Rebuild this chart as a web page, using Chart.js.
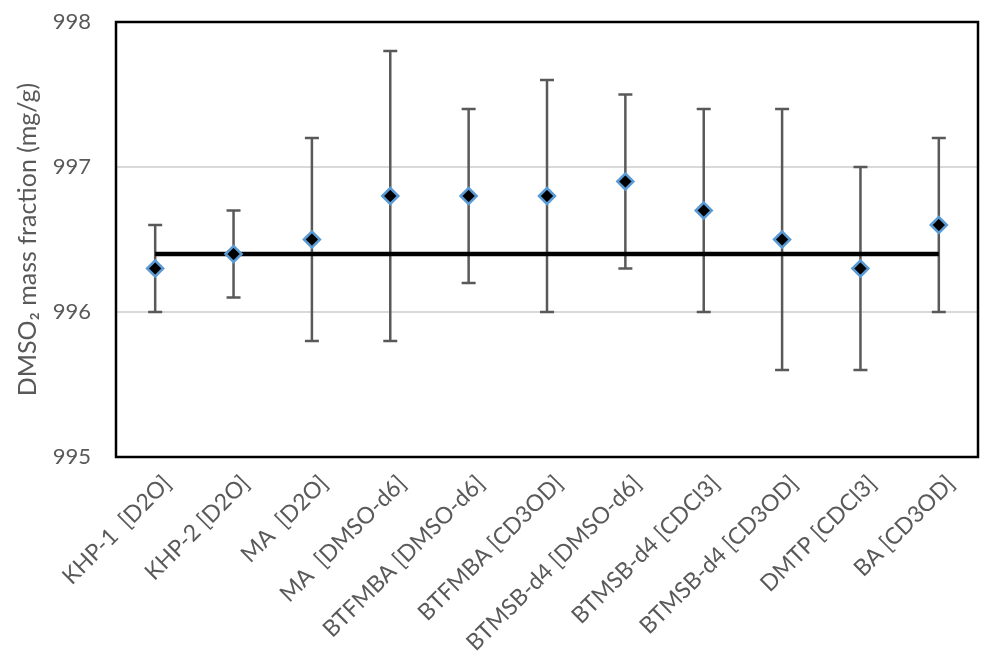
<!DOCTYPE html>
<html>
<head>
<meta charset="utf-8">
<script src="https://cdn.jsdelivr.net/npm/chart.js@4.4.1/dist/chart.umd.min.js"></script>
<style>
html,body{margin:0;padding:0;background:#fff;}
#wrap{width:1004px;height:672px;position:relative;}
</style>
</head>
<body>
<div id="wrap"><canvas id="c"></canvas></div>
<script>
const categories = ["KHP-1  [D2O]", "KHP-2 [D2O]", "MA  [D2O]", "MA  [DMSO-d6]", "BTFMBA [DMSO-d6]", "BTFMBA [CD3OD]", "BTMSB-d4 [DMSO-d6]", "BTMSB-d4 [CDCl3]", "BTMSB-d4 [CD3OD]", "DMTP [CDCl3]", "BA [CD3OD]"];
const values = [996.3, 996.4, 996.5, 996.8, 996.8, 996.8, 996.9, 996.7, 996.5, 996.3, 996.6];
const errLow = [996.0, 996.1, 995.8, 995.8, 996.2, 996.0, 996.3, 996.0, 995.6, 995.6, 996.0];
const errHigh = [996.6, 996.7, 997.2, 997.8, 997.4, 997.6, 997.5, 997.4, 997.4, 997.0, 997.2];
const referenceValue = 996.4;
const yTicks = [995, 996, 997, 998];

const FONT = "Lato, 'Open Sans', sans-serif";
const GRAY = "#595959";

const errorBars = {
  id: 'errorBars',
  beforeDatasetsDraw(chart) {
    const ctx = chart.ctx, x = chart.scales.x, y = chart.scales.y;
    ctx.save();
    ctx.strokeStyle = GRAY;
    ctx.lineWidth = 2.5;
    const cap = 7;
    values.forEach((v, i) => {
      const px = x.getPixelForValue(i);
      const yl = y.getPixelForValue(errLow[i]);
      const yh = y.getPixelForValue(errHigh[i]);
      ctx.beginPath();
      ctx.moveTo(px, yl); ctx.lineTo(px, yh);
      ctx.moveTo(px - cap, yl); ctx.lineTo(px + cap, yl);
      ctx.moveTo(px - cap, yh); ctx.lineTo(px + cap, yh);
      ctx.stroke();
    });
    ctx.restore();
  }
};

const frame = {
  id: 'frame',
  afterDraw(chart) {
    const a = chart.chartArea, ctx = chart.ctx;
    ctx.save();
    ctx.strokeStyle = '#000';
    ctx.lineWidth = 2.5;
    ctx.strokeRect(a.left, a.top, a.right - a.left, a.bottom - a.top);
    ctx.restore();
  }
};

new Chart(document.getElementById('c'), {
  type: 'line',
  data: {
    labels: categories,
    datasets: [
      {
        label: 'values',
        data: values,
        showLine: false,
        pointStyle: 'rectRot',
        pointRadius: 8,
        pointHoverRadius: 8,
        pointBackgroundColor: '#000',
        pointBorderColor: '#5B9BD5',
        pointBorderWidth: 2.5,
        order: 0
      },
      {
        label: 'reference',
        data: categories.map(() => referenceValue),
        borderColor: '#000',
        borderWidth: 4.5,
        pointRadius: 0,
        fill: false,
        order: 1
      }
    ]
  },
  options: {
    responsive: true,
    maintainAspectRatio: false,
    animation: false,
    layout: { padding: { left: 0, right: 26, top: 22, bottom: 0 } },
    plugins: { legend: { display: false }, tooltip: { enabled: false } },
    scales: {
      x: {
        offset: true,
        grid: { display: false, drawTicks: false },
        border: { display: false },
        ticks: {
          color: GRAY,
          font: { family: FONT, size: 23 },
          minRotation: 45,
          maxRotation: 45,
          autoSkip: false,
          padding: 13,
          labelOffset: 12
        },
        afterFit(s) { s.height = 672 - 457 - 0; }
      },
      y: {
        min: 995,
        max: 998,
        afterBuildTicks(s) { s.ticks = yTicks.map(v => ({ value: v })); },
        grid: {
          color: (c) => (c.tick && (c.tick.value === 996 || c.tick.value === 997)) ? '#d9d9d9' : 'rgba(0,0,0,0)',
          tickColor: 'rgba(0,0,0,0)',
          lineWidth: 2,
          drawTicks: true,
          tickLength: 22
        },
        border: { display: false },
        ticks: {
          color: GRAY,
          font: { family: FONT, size: 22 },
          padding: 3
        },
        title: {
          display: true,
          text: 'DMSO\u2082 mass fraction (mg/g)',
          color: GRAY,
          font: { family: FONT, size: 25 },
          padding: { top: 13, bottom: 4 }
        },
        afterFit(s) { s.width = 116; }
      }
    }
  },
  plugins: [errorBars, frame]
});
</script>
</body>
</html>
